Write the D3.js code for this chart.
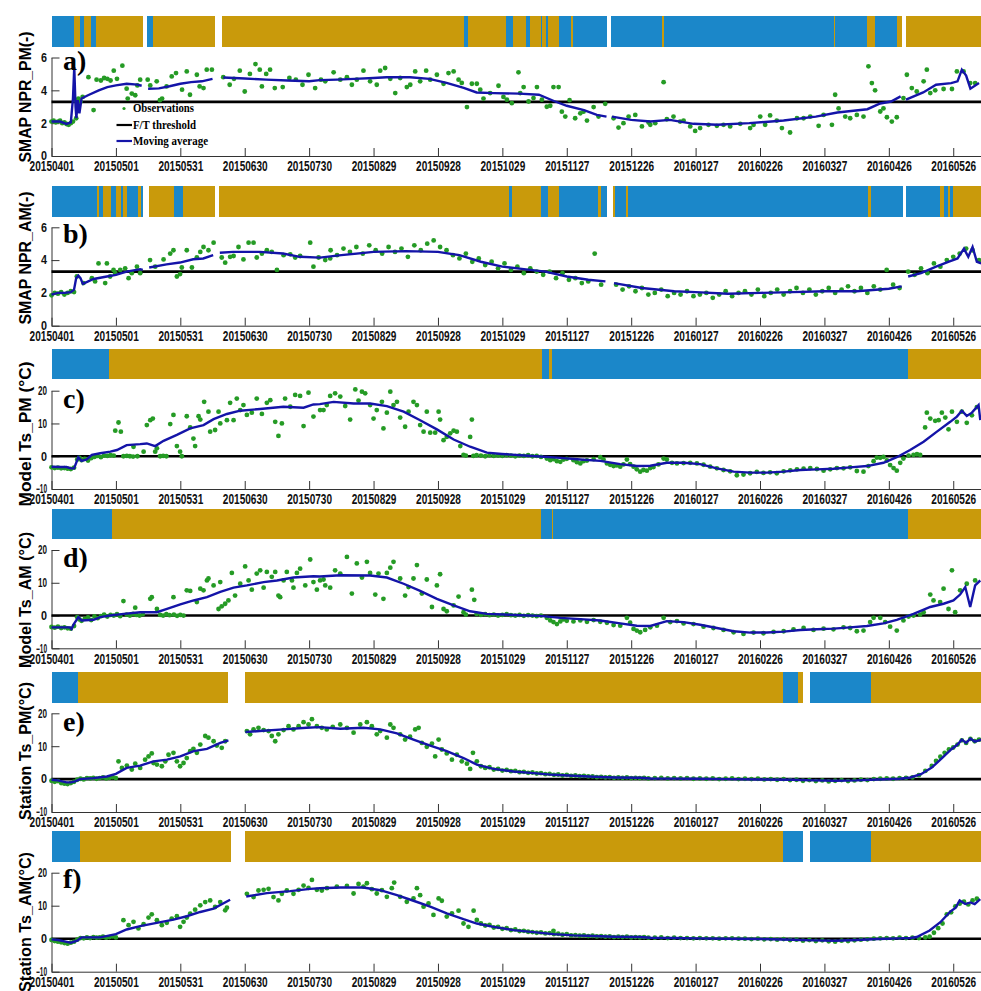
<!DOCTYPE html>
<html>
<head>
<meta charset="utf-8">
<script src="https://cdn.jsdelivr.net/npm/d3@7"></script>
<style>
  body { margin: 0; background: #fff; }
  .tick text { font-family: "Liberation Sans", Arial, sans-serif; font-weight: bold; fill: #111; }
  .domain, .tick line { stroke: #333; }
</style>
</head>
<body>
<div id="chart"></div>
<script>
// x axis: day index from 2015-04-01
const tickDays = [0, 30, 60, 90, 120, 150, 180, 210, 240, 270, 300, 330, 360, 390, 420];
const tickLabels = ["20150401", "20150501", "20150531", "20150630", "20150730", "20150829", "20150928",
  "20151029", "20151127", "20151226", "20160127", "20160226", "20160327", "20160426", "20160526"];

// freeze/thaw strips: [startDay, endDay, frozen(1)/thawed(0)]
const stripA = [[0,10.4,1],[10.4,13.4,0],[13.4,15.3,1],[15.3,18.5,0],[18.5,20.7,1],[20.7,42.6,0],[44.6,47.2,1],[47.2,76.1,0],
  [79.4,191.9,0],[191.9,193.9,1],[193.9,211.8,0],[211.8,215,1],[215,221,0],[221,222.8,1],[222.8,228,0],[228,228.6,1],
  [228.6,230.4,0],[230.4,231.4,1],[231.4,236.2,0],[236.2,242,1],[242,242.9,0],[242.9,258.8,1],[260.8,284.4,1],
  [284.4,285.2,0],[285.2,364.4,1],[364.4,364.9,0],[364.9,380,1],[380,383.6,0],[383.6,393.9,1],[393.9,396.1,0],[397.8,445,0]];
const stripB = [[0,21.1,1],[21.1,22.1,0],[22.1,24.2,1],[24.2,27.7,0],[27.7,30.1,1],[30.1,32.5,0],[32.5,33.4,1],[33.4,35.3,0],
  [35.3,40.3,1],[40.3,41.9,0],[41.9,42.6,1],[45.2,57.1,0],[57.1,61.4,1],[61.4,76.1,0],[78.2,213,0],[213,214.5,1],
  [214.5,228,0],[228,231.3,1],[231.3,236.5,0],[236.5,254.6,1],[254.6,256,0],[256,258.8,1],[261.5,262.5,0],[262.5,267.5,1],
  [267.5,268.5,0],[268.5,380.5,1],[380.5,381.5,0],[381.5,396.6,1],[398,413.9,1],[413.9,415.5,0],[415.5,417.4,1],
  [417.4,418.5,0],[418.5,420,1],[420,445,0]];
const stripC = [[0,27,1],[27,228.4,0],[228.4,231.9,1],[231.9,232.9,0],[232.9,398.9,1],[398.9,445,0]];
const stripD = [[0,28.3,1],[28.3,228.2,0],[228.2,233.2,1],[233.2,233.8,0],[233.8,398.9,1],[398.9,445,0]];
const stripE = [[0,12.3,1],[12.3,82.4,0],[90.3,340.9,0],[340.9,347.5,1],[347.5,350.1,0],[353.1,381.6,1],[381.6,445,0]];
const stripF = [[0,13.4,1],[13.4,83.4,0],[90.2,340.9,0],[340.9,350.1,1],[353.1,381.6,1],[381.6,445,0]];

// moving averages: [day, value], null = break
const avgA = [[0,2.1],[4,2.1],[7,1.95],[9,2.05],[10,3.5],[10.6,5.4],[11.2,3.0],[11.6,2.3],[12.2,3.4],[13,2.6],[14,3.5],[17,3.7],
  [22,4.0],[26,4.2],[30,4.3],[35,4.4],[40,4.35],[42,4.28],[43,null],[45,4.1],[50,4.12],[55,4.25],[60,4.4],[65,4.5],[70,4.55],
  [75,4.7],[77,null],[80,4.78],[90,4.72],[100,4.65],[110,4.6],[120,4.55],[125,4.62],[133,4.65],[141,4.7],[150,4.75],
  [156,4.8],[167,4.8],[176,4.7],[184,4.45],[192,4.15],[198,3.87],[206,3.83],[218,3.8],[227,3.73],[234,3.35],[240,3.06],
  [248,2.8],[254,2.5],[258.5,2.4],[259.5,null],[261,2.4],[270,2.2],[279,2.1],[288,2.2],[299,1.96],[310,1.9],[325,2.0],
  [341,2.16],[356,2.4],[366,2.65],[380,2.85],[386,3.2],[391,3.32],[395.5,3.63],[396.8,null],[398,3.43],[406,3.87],
  [412,4.34],[419,4.44],[422,4.55],[424,5.26],[426,4.9],[428,4.1],[432,4.44]];
const avgB = [[0,1.9],[3,2.0],[6,2.0],[9,2.05],[10.5,2.2],[11.5,2.9],[12.5,3.05],[13.5,2.9],[14.6,2.55],[19.6,2.85],
  [25.8,3.0],[30,3.1],[35,3.3],[41.3,3.45],[42.5,3.4],[43.5,null],[45.5,3.55],[53.6,3.74],[59.8,3.85],[66,4.05],[70.7,4.1],
  [75.3,4.3],[77,null],[78.4,4.45],[84.6,4.5],[97,4.5],[107.8,4.4],[115.6,4.2],[125,4.15],[135,4.3],[150,4.5],[165,4.55],
  [180,4.5],[190,4.3],[200,3.9],[210,3.6],[220,3.45],[230,3.3],[240,3.0],[250,2.8],[258,2.7],[260,null],[262,2.6],
  [275,2.3],[290,2.1],[300,2.05],[315,1.95],[330,2.0],[345,2.05],[360,2.1],[375,2.1],[390,2.25],[396,2.4],[397,null],
  [399,3.0],[405,3.2],[412,3.6],[418,3.9],[422,4.1],[425,4.7],[427,4.2],[429,4.8],[431,3.9],[433,3.8]];
const avgC = [[0,-3.2],[4,-3.3],[7,-3.3],[9,-3.7],[10.5,-3.7],[12.5,-0.3],[14,-1.4],[16.4,-1.0],[18.8,0.4],[22.7,0.9],
  [27.4,1.4],[30.5,1.9],[35,3.4],[41.3,3.7],[44.4,3.9],[48.3,3.1],[52.2,4.7],[58.4,6.5],[64.6,8.5],[70.8,9.5],[75.5,11.3],
  [81.7,12.9],[87.9,13.9],[97.2,14.4],[108,15.1],[117.4,14.8],[122,15.8],[125,15.9],[131.4,16.6],[140.7,16.1],[148.4,16.1],
  [156.2,15.3],[164,13.6],[171.7,11.0],[179.5,8.2],[187.3,5.1],[195,2.9],[202.8,1.1],[209.8,0.7],[218.3,0.3],[227.6,-0.1],
  [237,-0.5],[246.3,-1.0],[255.6,-1.4],[264.9,-2.4],[272.6,-3.0],[278.9,-2.9],[286.6,-2.0],[294.4,-2.0],[302.1,-2.4],
  [309.9,-3.7],[317.7,-4.7],[325.4,-5.0],[333.2,-5.0],[341,-4.7],[348.7,-4.2],[356.5,-4.0],[364.2,-3.8],[372,-3.4],
  [379.8,-3.0],[387.5,-2.0],[393.7,-0.3],[399.9,1.9],[406.2,4.4],[412.4,7.5],[418.6,10.5],[421.7,12.1],[424,13.9],
  [426.3,12.3],[428.7,13.3],[431.8,15.6],[432.6,11.0]];
const avgD = [[0,-3.6],[4,-3.6],[8.5,-3.6],[9.3,-4.1],[10.4,-2.6],[12.5,-0.5],[14,-1.5],[19.6,-1.3],[22.7,-0.5],[27.4,0],
  [33.6,0.5],[41.3,1.0],[49.1,1.0],[53.8,2.0],[60,3.4],[66.2,4.6],[72.4,5.6],[78.6,7.2],[84.8,8.5],[91,9.2],[98.8,10.2],
  [105,10.7],[112.7,11.6],[122,12.0],[125,11.9],[134.5,12.3],[148.4,12.2],[156.2,11.6],[164,9.7],[171.7,7.5],[179.5,5.1],
  [187.3,3.1],[195,1.3],[202.8,0.5],[210.5,0.3],[218.3,0.1],[227.6,-0.1],[237,-0.7],[246.3,-1.1],[255.6,-1.5],[264.9,-2.4],
  [272.6,-3.1],[278.9,-3.2],[286.6,-1.7],[294.4,-2.0],[302.1,-2.8],[309.9,-3.8],[317.7,-4.8],[325.4,-5.2],[333.2,-5.2],
  [341,-4.9],[348.7,-4.4],[356.5,-4.2],[364.2,-4.0],[372,-3.6],[379.8,-3.2],[387.5,-2.4],[393.7,-1.3],[401.5,0.5],
  [409.3,2.6],[415.5,3.6],[420.1,4.6],[423.2,6.4],[425.6,8.7],[427.9,2.6],[430.2,9.2],[432.6,10.7]];
const avgE = [[0,-0.2],[3,-0.4],[7,-1.0],[9,-1.0],[11,-0.7],[13.3,0],[19.6,0.3],[25.8,0.8],[30,1.6],[35,3.4],[41.3,4.1],
  [47.5,5.4],[53.8,5.9],[60,6.9],[66.2,8.5],[72.4,9.2],[78.6,11.0],[82.4,11.8],[86,null],[90.3,14.3],[97,14.6],[108,15.1],
  [118.8,15.6],[125,15.8],[134.5,15.3],[145.3,15.6],[153.1,15.1],[160.9,13.9],[168.6,12.0],[176.4,10.2],[184.1,8.5],
  [191.9,6.4],[198.1,4.4],[205.9,3.1],[215.2,2.3],[224.5,1.8],[233.8,1.3],[243.1,1.0],[252.5,0.7],[261.8,0.5],[274.2,0.4],
  [279,0.2],[290,0.15],[300,0.1],[315,0.0],[330,-0.1],[345,-0.2],[355,-0.4],[365,-0.5],[375,-0.4],[385,-0.1],[395,0.1],
  [400,0.5],[405,1.5],[410,3.5],[415,6.5],[419,9.0],[422,10.5],[424,12.0],[426,11.0],[428,12.3],[430,11.4],[433,12.0]];
const avgF = [[0,-0.2],[3,-0.4],[6,-0.8],[9,-1.2],[12,-0.6],[14,0.4],[22.7,0.4],[30,1.4],[35,2.8],[41.3,3.8],[49,4.8],
  [56.8,5.8],[63,6.8],[69.3,8.1],[75.5,9.1],[83.2,11.8],[86,null],[90.7,12.8],[100.3,13.8],[111.2,14.4],[120.5,15.1],
  [125,15.3],[134.5,15.5],[145.3,15.5],[153.1,14.7],[160.9,13.2],[168.6,11.5],[176.4,9.7],[184.1,7.7],[191.9,5.9],
  [198.1,4.6],[205.9,3.6],[215.2,2.6],[224.5,2.0],[233.8,1.4],[243.1,1.0],[252.5,0.8],[261.8,0.6],[274.2,0.5],[279,0.3],
  [290,0.2],[300,0.1],[315,0.0],[330,-0.1],[345,-0.3],[355,-0.5],[365,-0.6],[375,-0.4],[385,-0.1],[395,0.1],[400,0.2],
  [403,0.5],[409,2.5],[414,5.0],[418.6,8.2],[421,9.3],[423,11.6],[425.6,10.5],[428,11.0],[430,10.5],[432.6,12.0]];

// observations: [day, value]
const obsA = [[0,2.1],[1,2.15],[2,2.05],[3,2.1],[4,2.15],[5,2.0],[6,2.05],[7,1.95],[8,1.9],[9,2.0],[10,2.1],[10.8,3.4],
  [11.5,2.3],[12.5,3.5],[13.5,3.3],[14.5,3.6],[17.2,4.8],[19.6,2.8],[21,4.65],[23,4.6],[24.5,4.75],[26,4.7],[27.5,4.6],
  [29,5.2],[30.5,4.7],[33,5.5],[35,4.1],[35.5,3.5],[37.4,3.8],[39,3.7],[40,4.3],[41.3,4.65],[44.8,4.65],[46,4.3],[49,4.55],
  [50.5,3.4],[51.5,3.5],[53.6,4.24],[56,4.85],[58,5.05],[60.8,4.04],[63,5.15],[64.5,3.73],[67.7,4.95],[69,4.24],[70.8,4.14],
  [72.3,5.26],[74.7,5.26],[80,4.8],[83,4.34],[85,4.7],[87.7,5.2],[90,3.93],[92.4,5.0],[95,5.6],[97,5.26],[98,4.24],[100,5.0],
  [101.8,5.26],[104,4.14],[107.7,4.2],[110.8,4.75],[113.8,4.65],[116.9,4.34],[119.7,4.95],[122.8,4.14],[125.5,4.65],
  [127.5,4.55],[131.4,5.1],[134.5,4.65],[137.6,4.8],[139.9,4.34],[142.2,4.65],[145.3,5.2],[148.4,4.55],[151.5,4.34],
  [153.1,5.2],[155.4,5.36],[157.8,4.7],[160.1,3.83],[162.4,4.75],[165.5,4.2],[167.1,4.34],[169.4,5.15],[171.7,4.55],
  [174.5,5.2],[176.4,4.65],[179.5,4.95],[182.6,4.4],[184.9,5.05],[187.3,5.15],[189.6,4.65],[191.1,4.45],[193.5,2.98],
  [195.8,4.4],[198.1,4.4],[199.7,4.04],[201.2,3.5],[204.3,3.83],[208.2,4.28],[210.5,3.6],[212.1,3.43],[214.4,3.22],
  [217.5,5.1],[218.3,3.83],[219.9,4.2],[222.2,3.32],[224.5,3.53],[226.1,4.2],[228.4,3.43],[230.7,3.0],[232.3,3.06],
  [233.8,4.2],[236.2,4.2],[237.7,2.7],[239.3,2.4],[241.3,3.4],[243.9,2.3],[246.3,2.6],[247.8,2.7],[249.4,2.16],[252.5,2.98],
  [254.8,2.4],[257.9,3.18],[261.8,2.3],[264.1,1.73],[266.4,2.0],[268.8,2.4],[271.9,2.5],[275,1.8],[278.1,2.04],[278.9,1.9],
  [281.2,2.0],[285.1,4.5],[286.6,2.24],[289.7,2.4],[292.8,2.1],[294.4,2.16],[297.5,1.8],[299.8,1.53],[302.1,1.7],[306,1.9],
  [309.9,1.84],[313,1.9],[316.1,1.8],[320.8,1.96],[325.4,1.7],[327,1.9],[330.1,2.4],[332.4,1.9],[334.7,2.47],[337.8,2.16],
  [340.2,1.7],[344,1.43],[347.2,2.3],[350.3,2.3],[353.4,2.4],[357.3,1.84],[359.6,2.5],[363.5,1.9],[365,3.73],[366.6,2.9],
  [369.7,2.4],[372,2.3],[375.1,2.5],[378.2,2.4],[380.5,5.46],[382.1,4.44],[383.6,4.0],[386,2.71],[387.5,2.9],[389.1,2.36],
  [391.4,2.1],[393.7,2.36],[396.8,3.53],[398.4,4.95],[400.7,4.14],[403,3.93],[406.2,4.55],[407.7,5.26],[409.3,3.83],
  [411.6,4.0],[415.5,4.08],[419.4,4.08],[421.7,5.15],[424.8,5.15],[427.9,4.44],[430.2,4.44]];
const obsB = [[0,1.85],[1.5,2.0],[3,1.95],[4.5,2.05],[6,1.9],[7.5,2.0],[9,2.1],[10.5,2.05],[11.8,3.0],[14.9,2.6],[18.8,2.9],
  [20.3,2.7],[21.9,3.8],[25,2.6],[25.8,3.8],[27.3,3.0],[28.9,3.4],[29.7,3.2],[32,3.4],[34.3,3.5],[35.9,2.9],[37.4,3.2],
  [39.8,3.6],[41.3,3.2],[45.9,4.0],[48.3,3.6],[52.2,4.04],[55.3,4.4],[56.8,4.6],[58.4,3.0],[59.9,3.15],[60.7,3.55],[63,4.6],
  [65.4,3.55],[67.7,4.16],[69.3,4.5],[70.8,4.8],[73.1,4.6],[75.5,5.06],[79.3,4.16],[80.9,3.84],[83.2,4.2],[84.8,4.25],
  [87.1,4.8],[89.4,4.04],[91.8,5.06],[94.1,5.06],[95.6,4.16],[98,4.4],[100.3,4.6],[102.6,4.5],[105,3.4],[108.1,4.3],
  [111.2,4.35],[113.5,4.16],[115.8,4.25],[120.5,5.06],[122,3.6],[124.4,4.16],[127.5,4.0],[129.8,4.1],[130,4.6],[133,4.3],
  [136,4.7],[139,4.5],[142,4.8],[145,4.4],[148,4.9],[151,4.6],[154,4.4],[157,4.8],[160,4.5],[163,4.7],[166,4.2],[169,4.9],
  [172,4.6],[175,5.0],[178,5.2],[181,4.8],[184,4.6],[187,4.3],[190,4.1],[193,4.4],[196,3.9],[199,4.1],[202,3.7],[205,3.9],
  [208,3.5],[211,3.8],[214,3.4],[217,3.6],[220,3.2],[223,3.5],[226,3.3],[229,3.1],[232,3.3],[235,2.9],[238,3.2],[241,2.8],
  [244,2.9],[247,2.6],[250,2.7],[253,4.4],[256,2.5],[263,2.5],[266,2.2],[269,2.4],[272,2.1],[275,2.3],[278,1.9],[281,2.0],
  [284,2.2],[287,1.8],[290,2.0],[293,1.9],[296,2.1],[299,1.8],[302,1.9],[305,2.0],[308,1.7],[311,1.9],[314,2.1],[317,1.8],
  [320,2.0],[323,2.1],[326,1.9],[329,2.2],[332,1.8],[335,2.0],[338,2.2],[341,1.9],[344,2.1],[347,2.3],[350,2.0],[353,2.2],
  [356,1.9],[359,2.1],[362,2.3],[365,2.0],[368,2.2],[371,2.4],[374,2.1],[377,2.3],[380,2.0],[383,2.4],[386,2.2],[389,3.4],
  [392,2.5],[395,2.3],[399,3.3],[402,3.1],[405,3.5],[408,3.2],[411,3.8],[414,3.6],[417,4.0],[420,4.2],[423,4.4],[426,4.7],
  [429,4.6],[432,4.0]];
const obsC = [[0,-3.4],[1.5,-3.6],[3,-3.5],[4.5,-3.7],[6,-3.6],[7.5,-3.8],[9,-3.9],[10.5,-3.5],[12,-1.0],[13,-0.5],[14,-1.2],
  [15.5,-0.8],[17,-1.3],[18.5,-0.6],[20,-0.2],[21.5,0.1],[23,-0.3],[24.5,0.2],[26,0.1],[27.5,0.3],[29,0.2],[29.7,7.8],
  [31.2,10.3],[32.3,7.5],[33.5,0],[35.1,0.1],[36.5,0],[38,-0.1],[38.2,2.9],[40,0],[42.9,1.4],[44.4,9.5],[46,11.0],[47.2,11.5],
  [48.3,1.4],[49.1,2.4],[50.6,0],[52,0.1],[53.5,0],[55.3,9.8],[56.8,12.6],[58.4,3.1],[59.9,1.4],[60.7,0],[63,12.2],[64.6,8.8],
  [66.1,5.4],[66.9,3.1],[68.5,12.2],[69.3,11.2],[71.1,16.6],[73.1,13.6],[73.9,7.5],[76.2,8.0],[77.8,13.6],[78.6,10.0],
  [81.7,11.0],[83.2,16.3],[84.8,11.0],[86.3,17.6],[87.9,14.1],[89.4,15.6],[91,12.6],[93.3,13.3],[95.6,17.6],[98,12.9],
  [100.3,16.3],[101.9,17.1],[104.2,10.5],[105.7,6.2],[107.3,10.0],[108.8,17.6],[111.2,15.1],[113.5,18.7],[115.8,18.4],
  [117.4,9.2],[119.7,19.4],[122,12.1],[125.1,14.1],[126.7,14.1],[128.2,15.6],[129.8,18.4],[132.1,19.2],[134.5,18.2],
  [136.8,15.3],[139.1,11.2],[141.5,20.4],[143,17],[144.6,19.7],[146.1,19.2],[148.4,15.6],[150,11.5],[151.5,14.1],[153.9,16.6],
  [154.6,8.5],[156.2,13.3],[157.8,19.7],[159.3,15.6],[160.9,16.6],[162.4,11.8],[164.7,9.0],[166.3,13.6],[168.6,16.6],
  [170.2,15.6],[171.7,9.5],[173.3,7.5],[174.8,13.6],[176.4,7.2],[178.7,7.2],[180.3,13.6],[181,11.2],[182.6,4.9],[184.1,5.9],
  [185.7,7.0],[187.3,7.8],[188.8,7.5],[190.4,3.1],[191.9,0.4],[193,0.2],[195,5.9],[195.8,11.2],[196.5,0.1],[198,0.3],[200,0.2],
  [202,0.0],[204,0.3],[206,0.1],[208,0.2],[210,0.1],[212,0.3],[214,0.2],[216,0.0],[218,0.2],[220,0.1],[222,0.3],[224,0.0],
  [226,0.1],[228,-0.2],[230.7,-0.7],[232.3,-1.2],[233.8,-0.9],[235.4,-1.5],[237,-1.7],[238.5,-1.0],[240,-0.8],[243.1,-1.2],
  [244.7,-1.8],[246.3,-2.2],[247.8,-1.5],[249.4,-1.3],[252.5,-0.9],[255.6,-0.3],[257.1,-1.0],[258.7,-2.2],[260.2,-2.6],
  [261.8,-3.0],[263.3,-2.8],[264.9,-3.2],[266.4,-2.5],[268,-1.0],[269.5,-2.4],[271.1,-3.2],[272.6,-4.0],[274.2,-4.7],
  [275.7,-4.2],[277.3,-4.4],[278.9,-3.6],[280.4,-3.3],[282.7,-2.5],[285.1,-0.7],[286.6,-1.0],[289,-2.0],[291.3,-2.2],
  [294.4,-2.1],[297.5,-2.0],[300.6,-2.2],[303.7,-2.6],[306.8,-3.2],[309.9,-3.7],[313,-4.2],[316.1,-4.6],[319.2,-5.8],
  [322.3,-5.6],[325.4,-5.2],[328.5,-4.8],[331.6,-5.1],[334.7,-4.9],[337.8,-5.2],[341,-4.6],[344.1,-4.3],[347.2,-4.0],
  [350.3,-3.8],[353.4,-3.6],[356.5,-3.9],[359.6,-4.4],[362.7,-4.0],[365.8,-3.6],[368.9,-3.7],[372,-3.4],[375.1,-4.5],
  [378.2,-4.7],[380.5,-3.0],[382.9,-1.5],[384.4,-0.4],[386,-0.5],[387.5,-0.2],[389.1,-1.3],[390.6,-2.7],[392.2,-3.6],
  [393.7,-4.4],[395.3,-2.0],[396.8,-0.7],[399.2,0.2],[401.5,0.4],[403.1,0.6],[404.6,0.4],[406.9,8.8],[407.7,13.3],
  [409.3,11.5],[411.6,10.8],[413.2,11.0],[414.7,13.3],[416.3,11.8],[417.8,8.2],[419.4,13.6],[421.7,10.5],[424,13.6],
  [426.3,10.2],[428.7,12.5],[431,15.0]];
const obsD = [[0,-3.5],[1.5,-3.7],[3,-3.4],[4.5,-3.8],[6,-3.6],[7.5,-3.9],[9,-4.0],[10.5,-3.2],[12,-0.5],[13,-1.2],[14,-1.6],
  [15.5,-1.0],[17,-0.6],[18.5,-1.4],[20,-0.3],[21.5,-0.8],[23,-0.2],[24.5,0.3],[26,-0.3],[27.5,0.2],[29,0.0],[30.5,0.4],
  [32,-0.2],[33.5,4.4],[35,0.3],[36.5,0.0],[38,0.5],[39,2.4],[39.5,0.2],[41,0.0],[42.5,0.4],[46,5.1],[46.7,5.6],[49.1,2.0],
  [50.6,0.2],[52,0.0],[53.5,0.4],[55,0.1],[56.8,5.6],[57,0.3],[58.5,-0.1],[60,0.2],[61.5,0.0],[63,7.7],[64.6,7.5],[67.7,4.1],
  [69.3,8.2],[70.8,7.7],[72.4,10.7],[73.1,11.3],[75.5,9.2],[77.8,2.0],[78.6,10.2],[79.3,2.8],[80.9,3.6],[82.4,4.6],[84,13.0],
  [85.5,6.1],[87.9,9.7],[90.2,15.0],[91.8,10.7],[93.3,7.9],[95.6,12.8],[97.2,13.8],[98.8,8.5],[100.3,13.3],[102.6,11.8],
  [104.2,13.3],[105.7,6.1],[106.5,5.6],[108.1,10.7],[109.6,13.3],[112,10.7],[112.7,8.5],[114.3,13.0],[115.8,14.3],
  [118.2,9.2],[120.5,17.1],[122,10.2],[123.6,7.9],[125.1,10.7],[126.7,11.0],[127.5,9.2],[129.8,8.5],[132.1,13.8],
  [134.5,12.8],[137.6,17.9],[139.9,6.7],[142.2,15.9],[144.6,11.6],[146.9,16.4],[148.4,13.0],[150.8,6.4],[152.3,12.8],
  [154.6,5.1],[156.2,13.0],[157.8,14.6],[159.3,16.4],[162.4,11.3],[164.7,6.1],[166.3,8.7],[168.6,11.3],[170.2,15.4],
  [172.5,6.7],[174.8,11.0],[177.2,2.6],[179.5,9.2],[181,12.6],[182.6,2.0],[184.1,1.3],[187.3,3.1],[189.6,5.8],[191.9,1.0],
  [193,0.3],[195.8,7.9],[196.9,4.8],[198,0.5],[200,0.2],[202,0.4],[204,0.1],[206,0.3],[208,0.0],[210,0.2],[212,0.4],[214,0.1],
  [216,0.0],[218,0.2],[220,-0.1],[222,0.1],[224,0.0],[226,-0.2],[228,0.0],[230.7,-0.7],[232.3,-1.5],[233.8,-2.0],
  [235.4,-2.6],[237,-1.8],[238.5,-1.2],[240,-1.6],[243.1,-1.8],[246.3,-1.5],[249.4,-1.9],[252.5,-1.4],[255.6,-1.9],
  [258.7,-2.2],[261.8,-2.9],[264.9,-3.1],[268,-0.7],[269.5,-2.2],[271.1,-4.1],[272.6,-4.6],[274.2,-5.1],[276.5,-4.4],
  [278.9,-3.6],[282,-3.1],[285.1,-0.7],[288.2,-2.0],[291.3,-1.7],[294.4,-2.4],[299,-2.6],[303.7,-3.4],[308.3,-3.8],
  [313,-4.4],[317.7,-5.1],[322.3,-5.6],[327,-5.2],[331.6,-5.4],[336.3,-5.0],[341,-4.8],[345.6,-4.2],[350.3,-3.8],
  [354.9,-4.4],[359.6,-4.0],[364.2,-4.2],[368.9,-3.6],[372,-3.8],[375.1,-4.8],[378.2,-4.6],[381.3,-2.0],[382.9,-0.7],
  [386,-0.7],[388.3,-2.0],[390.6,-3.4],[393.7,-4.6],[396.8,-1.5],[399.2,-0.3],[401.5,0],[404.6,0.3],[406.2,1.0],
  [409.3,6.4],[410.8,4.6],[413.9,4.1],[415.5,8.2],[417.8,2.0],[419.4,13.8],[420.9,1.0],[423.2,7.7],[426.3,9.7],[430.2,10.7]];
const obsE = [[0,-0.5],[1.5,-0.8],[3,-0.6],[4.5,-1.2],[6,-1.4],[7.5,-1.5],[9,-1.2],[10.5,-0.8],[12,-0.2],[13.5,0.1],[15,-0.1],
  [16.5,0.3],[18,0.2],[19.5,0.4],[21,0.1],[22.5,0.3],[24,0.5],[25.5,0.2],[27,0.4],[28.5,0.6],[30,0.3],[31.2,5.4],[32.8,3.4],
  [35.1,4.1],[37.4,2.9],[39,4.7],[41.3,3.4],[43.6,5.9],[45.2,6.9],[46.7,7.8],[47.5,4.9],[49.1,4.4],[51.4,3.9],[53,5.4],
  [54.5,7.4],[56.8,8.0],[58.4,5.4],[59.9,3.9],[61.5,4.9],[63,6.4],[64.6,8.5],[66.1,9.2],[67.7,8.0],[69.3,10.5],[71.6,13.1],
  [73.1,12.6],[75.5,11.5],[77,10.2],[79.3,9.5],[80.9,11.5],[91,14.6],[92.5,13.6],[94.1,15.1],[96.4,15.6],[98.8,14.9],
  [101.1,14.6],[102.6,13.1],[104.2,11.5],[105.7,13.6],[108.1,14.9],[110.4,16.1],[112.7,15.1],[115.1,16.1],[117.4,17.3],
  [119.7,16.6],[121.3,18.2],[123.6,16.1],[125.9,15.6],[128.2,15.1],[131,15.9],[134.5,16.6],[137.6,15.6],[140.7,14.1],
  [143.8,16.6],[146.9,17.3],[149.2,16.1],[151.5,13.6],[153.1,14.6],[156.2,12.6],[157.8,16.6],[159.3,15.6],[162.4,13.6],
  [164.7,12.0],[167,12.9],[169.4,15.1],[171,15.6],[172.5,11.0],[174.8,9.8],[177.2,10.8],[178.7,6.9],[180.3,12.0],[181.8,9.0],
  [184.1,7.8],[186.5,5.9],[188.8,7.4],[191.1,5.4],[193.5,4.7],[195,3.1],[196.3,8.0],[198.1,5.4],[200,3.9],[202,3.4],[204,3.6],
  [206,2.9],[208,3.1],[210,2.6],[212,2.8],[214,2.4],[216,2.5],[218,2.1],[220,2.2],[222,1.9],[224,2.0],[226,1.7],[228,1.8],
  [230,1.5],[232,1.6],[234,1.3],[236,1.4],[238,1.1],[240,1.3],[242,1.0],[244,1.1],[246,0.9],[248,1.0],[250,0.8],[252,0.8],
  [254,0.6],[256,0.7],[258,0.5],[260,0.6],[262,0.4],[264,0.5],[266,0.4],[268,0.5],[270,0.3],[272,0.4],[274,0.3],[276,0.4],
  [278,0.2],[281,0.3],[284,0.4],[287,0.2],[290,0.3],[293,0.2],[296,0.3],[299,0.1],[302,0.2],[305,0.1],[308,0.2],[311,0.0],
  [314,0.1],[317,0.2],[320,0.0],[323,0.1],[326,0.0],[329,0.1],[332,-0.1],[335,0.0],[338,-0.2],[341,0.0],[344,-0.3],
  [347,-0.2],[350,-0.5],[353,-0.3],[356,-0.6],[359,-0.4],[362,-0.7],[365,-0.5],[368,-0.3],[371,-0.6],[374,-0.4],[377,-0.2],
  [380,-0.3],[383,0.0],[386,0.1],[389,0.2],[392,0.1],[395,0.3],[398,0.4],[401,0.5],[404,1.2],[407,2.5],[410,4.0],[412,5.5],
  [414,6.8],[416,8.0],[418,9.0],[420,9.6],[422,10.5],[424,11.8],[426,11.0],[428,12.2],[430,11.5],[432,12.0]];
const obsF = [[0,-0.4],[1.5,-0.7],[3,-0.9],[4.5,-1.1],[6,-1.3],[7.5,-1.5],[9,-1.2],[10.5,-0.9],[12,-0.3],[13.5,0.2],[15,0.1],
  [16.5,0.4],[18,0.2],[19.5,0.5],[21,0.3],[22.5,0.4],[24,0.6],[25.5,0.3],[27,0.5],[28.5,0.7],[30,0.4],[33.5,5.6],[35.9,4.1],
  [38.2,5.1],[40.5,3.1],[42.9,4.4],[45.2,6.4],[46.7,7.4],[49.1,5.6],[51.4,4.1],[53.7,4.8],[56,6.1],[58.4,6.8],[59.9,3.6],
  [61.5,5.1],[63,6.4],[64.6,7.6],[66.9,8.8],[69.3,10.1],[71.6,11.1],[73.9,11.6],[76.2,9.6],[78.6,11.1],[80.9,8.6],[81.7,9.4],
  [91,13.6],[94.1,12.6],[96.4,14.6],[98.8,14.8],[101.1,15.1],[103.4,12.6],[105.7,11.6],[107.3,13.6],[109.6,14.6],[112.7,13.6],
  [115.1,14.8],[117.4,16.1],[119.7,15.4],[121.3,17.8],[123.6,14.8],[125.9,14.6],[128.3,15.3],[132.9,15.8],[137.6,16.0],
  [140.7,13.7],[143,16.6],[145.3,15.8],[146.9,16.8],[149.2,15.0],[151.5,13.7],[153.9,14.7],[156.2,12.7],[158.5,15.3],
  [159.6,17.0],[162.4,12.7],[165.5,11.2],[168.6,12.2],[170.2,15.3],[171.7,13.2],[173.3,9.7],[175.6,10.7],[177.9,7.2],
  [180.3,12.2],[181.8,11.5],[184.1,6.7],[186.5,7.7],[189.6,8.5],[191.9,4.6],[194.2,3.6],[196.6,8.5],[198.1,5.7],[200,4.6],
  [202,4.0],[204,4.2],[206,3.4],[208,3.6],[210,3.0],[212,3.2],[214,2.6],[216,2.8],[218,2.3],[220,2.4],[222,2.1],[224,2.0],
  [226,1.8],[228,1.9],[230,1.6],[232,1.7],[233.8,2.4],[234,1.4],[236,1.5],[238,1.2],[240,1.4],[242,1.0],[244,1.1],[246,0.9],
  [248,1.0],[250,0.8],[252,0.9],[254,0.7],[256,0.8],[258,0.6],[260,0.7],[262,0.5],[264,0.6],[266,0.5],[268,0.6],[270,0.4],
  [272,0.5],[274,0.4],[276,0.5],[278,0.3],[281,0.3],[284,0.4],[287,0.2],[290,0.3],[293,0.2],[296,0.2],[299,0.1],[302,0.2],
  [305,0.1],[308,0.1],[311,0.0],[314,0.1],[317,0.1],[320,0.0],[323,0.0],[326,-0.1],[329,0.0],[332,-0.2],[335,-0.1],
  [338,-0.3],[341,-0.1],[344,-0.4],[347,-0.3],[350,-0.6],[353,-0.4],[356,-0.7],[359,-0.5],[362,-0.8],[365,-0.9],[368,-0.6],
  [371,-0.7],[374,-0.5],[377,-0.3],[380,-0.2],[383,0.0],[386,0.1],[389,0.2],[392,0.1],[395,0.3],[398,0.2],[401,0.3],
  [404,0.2],[407,0.4],[409,0.6],[411,1.8],[413,3.2],[415,4.6],[417,7.4],[419,8.0],[421,9.8],[423,10.6],[425,11.2],
  [427,10.4],[429,11.6],[431,12.1]];

const BLUE = "#1b87c9", GOLD = "#c99a0b";
const X0 = 51.5, PXDAY = 2.147;
const x = d3.scaleLinear().domain([0, 440]).range([X0, X0 + 440 * PXDAY]);

const panels = [
  { tag: "a)", ylab: "SMAP NPR_PM(-)", labLen: 131, labY: 97, domain: [0, 6], ticks: [0, 2, 4, 6], thr: 3.3,
    strip: stripA, avg: avgA, obs: obsA, s: [16, 47], p: [57.5, 156], tagY: 70 },
  { tag: "b)", ylab: "SMAP NPR_AM(-)", labLen: 133, labY: 258, domain: [0, 6], ticks: [0, 2, 4, 6], thr: 3.3,
    strip: stripB, avg: avgB, obs: obsB, s: [186, 217], p: [227.3, 325.7], tagY: 243 },
  { tag: "c)", ylab: "Model Ts_PM (°C)", labLen: 145, labY: 434, domain: [-10, 20], ticks: [-10, 0, 10, 20], thr: 0,
    strip: stripC, avg: avgC, obs: obsC, s: [349.3, 379.3], p: [390.7, 489], tagY: 408 },
  { tag: "d)", ylab: "Model Ts_AM (°C)", labLen: 136, labY: 600, domain: [-10, 20], ticks: [-10, 0, 10, 20], thr: 0,
    strip: stripD, avg: avgD, obs: obsD, s: [509.3, 538.7], p: [550, 648.3], tagY: 567 },
  { tag: "e)", ylab: "Station Ts_PM(°C)", labLen: 138, labY: 751, domain: [-10, 20], ticks: [-10, 0, 10, 20], thr: 0,
    strip: stripE, avg: avgE, obs: obsE, s: [672, 702.7], p: [713.3, 812], tagY: 731 },
  { tag: "f)", ylab: "Station Ts_AM(°C)", labLen: 140, labY: 922, domain: [-10, 20], ticks: [-10, 0, 10, 20], thr: 0,
    strip: stripF, avg: avgF, obs: obsF, s: [831.3, 862], p: [872.7, 971.7], tagY: 888 }
];

const svg = d3.select("#chart").append("svg")
  .attr("width", 981)
  .attr("height", 991);

panels.forEach(p => {
  const g = svg.append("g");
  const y = d3.scaleLinear().domain(p.domain).range([p.p[1], p.p[0]]);

  // F/T strip
  g.append("g").selectAll("rect")
    .data(p.strip)
    .join("rect")
    .attr("x", d => x(d[0]))
    .attr("width", d => x(d[1]) - x(d[0]))
    .attr("y", p.s[0])
    .attr("height", p.s[1] - p.s[0])
    .attr("fill", d => d[2] ? BLUE : GOLD)
    .attr("shape-rendering", "crispEdges");

  // axes
  const xa = g.append("g")
    .attr("transform", `translate(0,${p.p[1]})`)
    .call(d3.axisBottom(x).tickValues(tickDays).tickFormat((d, i) => tickLabels[i])
      .tickSizeInner(-8).tickSizeOuter(0).tickPadding(5.5));
  // narrow, tall tick labels like the original figure
  xa.selectAll("text").attr("font-size", 14).attr("transform", "scale(0.72,1)");

  const ya = g.append("g")
    .attr("transform", `translate(${X0},0)`)
    .call(d3.axisLeft(y).tickValues(p.ticks).tickFormat(d3.format("d"))
      .tickSizeInner(-8).tickSizeOuter(0).tickPadding(4.5));
  ya.selectAll("text").attr("font-size", 12)
    .attr("textLength", d => ({1: 6, 2: 9, 3: 11})[String(d).length])
    .attr("lengthAdjust", "spacingAndGlyphs");

  // threshold
  g.append("line")
    .attr("x1", x(0)).attr("x2", x(440))
    .attr("y1", y(p.thr)).attr("y2", y(p.thr))
    .attr("stroke", "#000").attr("stroke-width", 2.6);

  // observations
  g.append("g").selectAll("circle")
    .data(p.obs)
    .join("circle")
    .attr("cx", d => x(d[0]))
    .attr("cy", d => y(d[1]))
    .attr("r", 2.4)
    .attr("fill", "#259b25");

  // moving average
  const line = d3.line().defined(d => d[1] != null).x(d => x(d[0])).y(d => y(d[1]));
  g.append("path")
    .datum(p.avg)
    .attr("d", line)
    .attr("fill", "none")
    .attr("stroke", "#1414a8")
    .attr("stroke-width", 2.4);

  // panel tag
  g.append("text")
    .attr("x", 63).attr("y", p.tagY)
    .attr("font-family", "'Liberation Serif', 'Times New Roman', serif")
    .attr("font-weight", "bold").attr("font-size", 28)
    .text(p.tag);

  // y label
  g.append("text")
    .attr("transform", `translate(25.5,${p.labY}) rotate(-90)`)
    .attr("text-anchor", "middle")
    .attr("dominant-baseline", "central")
    .attr("font-family", "'Liberation Sans', Arial, sans-serif")
    .attr("font-weight", "bold").attr("font-size", 17)
    .attr("textLength", p.labLen).attr("lengthAdjust", "spacingAndGlyphs")
    .text(p.ylab);
});

// legend in panel a
const leg = svg.append("g").attr("font-family", "'Liberation Serif', 'Times New Roman', serif")
  .attr("font-weight", "bold").attr("font-size", 12);
leg.append("circle").attr("cx", 124).attr("cy", 108.5).attr("r", 1.6).attr("fill", "#259b25");
leg.append("text").attr("x", 133).attr("y", 112).attr("textLength", 61).attr("lengthAdjust", "spacingAndGlyphs").text("Observations");
leg.append("line").attr("x1", 116.5).attr("x2", 132).attr("y1", 125).attr("y2", 125).attr("stroke", "#000").attr("stroke-width", 2.2);
leg.append("text").attr("x", 133).attr("y", 129).attr("textLength", 63).attr("lengthAdjust", "spacingAndGlyphs").text("F/T threshold");
leg.append("line").attr("x1", 116.5).attr("x2", 132).attr("y1", 141).attr("y2", 141).attr("stroke", "#1414a8").attr("stroke-width", 2.2);
leg.append("text").attr("x", 133).attr("y", 145).attr("textLength", 75).attr("lengthAdjust", "spacingAndGlyphs").text("Moving average");
</script>
</body>
</html>
